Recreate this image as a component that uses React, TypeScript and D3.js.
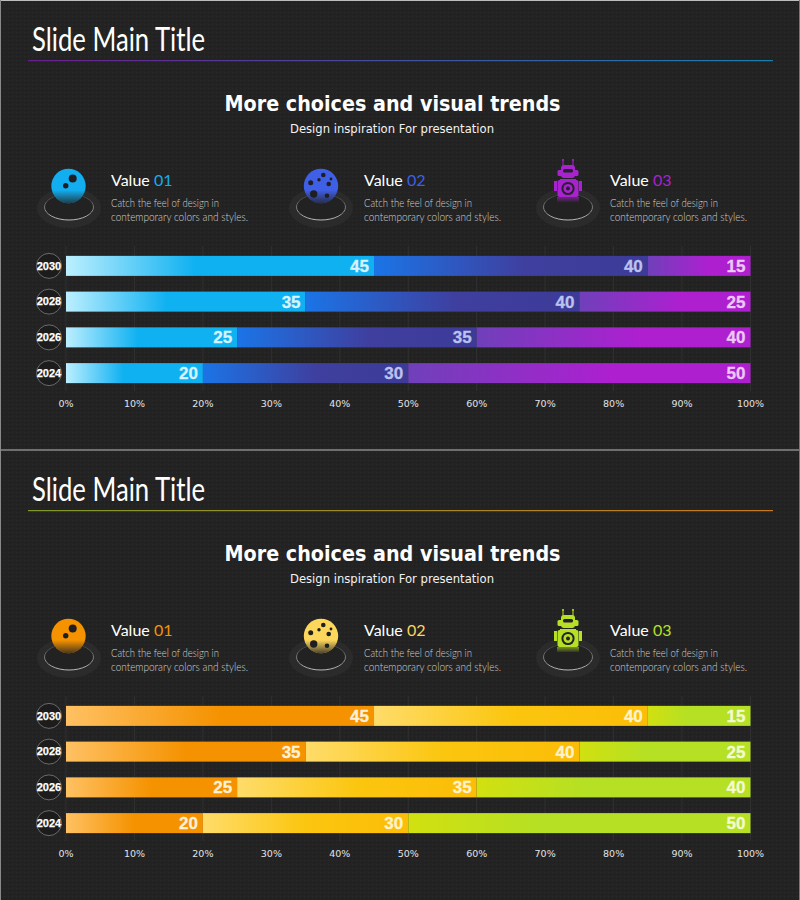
import * as d3 from 'd3';

const years = ['2030', '2028', '2026', '2024'];
const value01 = [45, 35, 25, 20];
const value02 = [40, 40, 35, 30];
const value03 = [15, 25, 40, 50];
const xTickValues = [0, 10, 20, 30, 40, 50, 60, 70, 80, 90, 100];
const legendNames = ['Value', 'Value', 'Value'];
const legendNumbers = ['01', '02', '03'];
const descLines = ['Catch the feel of design in', 'contemporary colors and styles.'];

interface Theme {
  id: string;
  accents: string[];
  labels: string[];
  seg: [number, string][][];
  rule: string[];
}

const blueTheme: Theme = {
  id: 'blue',
  accents: ['#12aef0', '#3f5fe6', '#a822cf'],
  labels: ['#d6f3ff', '#bcc2ee', '#ecc8f6'],
  seg: [
    [[0, '#bcefff'], [0.42, '#0fb1f1'], [1, '#0fb1f1']],
    [[0, '#1b74e6'], [0.55, '#3f3f9f'], [1, '#3d3b98']],
    [[0, '#6f40ba'], [0.6, '#ae1fd0'], [1, '#ae1fd0']],
  ],
  rule: ['#6a1f8c', '#1a7fae'],
};

const orangeTheme: Theme = {
  id: 'orange',
  accents: ['#f59200', '#fdd65c', '#b5e024'],
  labels: ['#fff0d8', '#fff3cc', '#f4fbd0'],
  seg: [
    [[0, '#ffc163'], [0.5, '#f59200'], [1, '#f59200']],
    [[0, '#ffdc6a'], [0.5, '#fbc60f'], [1, '#fbbd08']],
    [[0, '#d2e010'], [0.4, '#b5e024'], [1, '#b5e024']],
  ],
  rule: ['#7f9a26', '#c9791f'],
};

const x = d3.scaleLinear().domain([0, 100]).range([66, 750.5]);
const y = d3.scaleBand<string>().domain(years).range([248, 391]).paddingInner(0.44).paddingOuter(0.22);

const rows = years.map((year, i) => ({ year, a: value01[i], b: value02[i], c: value03[i] }));
const stacked = d3.stack<{ year: string; a: number; b: number; c: number }>().keys(['a', 'b', 'c'])(rows);

const thin = 'Lato, "Noto Sans", sans-serif';
const narrow = '"Liberation Sans Narrow", "Liberation Sans", sans-serif';

const Planet = ({ cx, fill, fadeId, craters }: { cx: number; fill: string; fadeId: string; craters: number[][] }) => (
  <g transform={`translate(${cx},186)`}>
    <circle r={17.2} fill={fill} />
    <circle r={17.2} fill={`url(#${fadeId})`} />
    {craters.map(([dx, dy, r], i) => (
      <circle key={i} cx={dx} cy={dy} r={r} fill="#1f1f22" />
    ))}
  </g>
);

const Robot = ({ cx, fill, fadeId }: { cx: number; fill: string; fadeId: string }) => (
  <g transform={`translate(${cx},0)`}>
    <line x1={-5} x2={-5} y1={161} y2={166} stroke={fill} strokeWidth={1} />
    <line x1={5} x2={5} y1={161} y2={166} stroke={fill} strokeWidth={1} />
    <circle cx={-5} cy={160} r={1.1} fill={fill} />
    <circle cx={5} cy={160} r={1.1} fill={fill} />
    <rect x={-7} y={165} width={14} height={13} rx={3} fill={fill} />
    <rect x={-10.5} y={170} width={21} height={6} rx={1.5} fill={fill} />
    <rect x={-5} y={169} width={10} height={3.6} rx={1.5} fill="#26202a" />
    <rect x={-8} y={179} width={16} height={3} fill={fill} />
    <rect x={-10.5} y={180} width={21} height={17} rx={2} fill={fill} />
    <rect x={-14} y={181} width={3} height={10} fill={fill} />
    <rect x={11} y={181} width={3} height={10} fill={fill} />
    <circle cy={188.5} r={6.6} fill="#26202a" />
    <circle cy={188.5} r={4.6} fill={fill} />
    <circle cy={188.5} r={2} fill="#26202a" />
    <rect x={-11} y={197} width={22} height={5} fill={fill} opacity={0.55} />
    <rect x={-14} y={190} width={28} height={12} fill={`url(#${fadeId})`} />
  </g>
);

const Stand = ({ cx, id }: { cx: number; id: string }) => (
  <g>
    <ellipse cx={cx} cy={208} rx={32} ry={20} fill="#2b2b2b" />
    <ellipse cx={cx} cy={207} rx={24.5} ry={13} fill="#222222" stroke={`url(#${id}-ring)`} strokeWidth={1} />
  </g>
);

const Panel = ({ theme, top }: { theme: Theme; top: number }) => {
  const id = theme.id;
  const legendX = [111, 364, 610];
  return (
    <g transform={`translate(0,${top})`}>
      <defs>
        <linearGradient id={`${id}-rule`}>
          <stop offset="0" stopColor={theme.rule[0]} />
          <stop offset="1" stopColor={theme.rule[1]} />
        </linearGradient>
        <linearGradient id={`${id}-ring`} x1="0" x2="0" y1="0" y2="1">
          <stop offset="0" stopColor="#333333" />
          <stop offset="1" stopColor="#bbbbbb" />
        </linearGradient>
        <linearGradient id={`${id}-fade`} x1="0" x2="0" y1="0" y2="1">
          <stop offset="0.62" stopColor="#222222" stopOpacity={0} />
          <stop offset="1" stopColor="#222222" stopOpacity={0.8} />
        </linearGradient>
        {theme.seg.map((stops, s) => (
          <linearGradient key={s} id={`${id}-seg${s}`}>
            {stops.map(([o, c]) => (
              <stop key={o} offset={o} stopColor={c} />
            ))}
          </linearGradient>
        ))}
      </defs>

      <text x={32} y={51} fill="#ffffff" fontFamily={thin} fontWeight={400} fontSize={32} textLength={173} lengthAdjust="spacingAndGlyphs">
        Slide Main Title
      </text>
      <rect x={28} y={60} width={745} height={1.2} fill={`url(#${id}-rule)`} />

      <text x={392.5} y={111} textAnchor="middle" fill="#ffffff" fontFamily="DejaVu Sans, sans-serif" fontWeight={700} fontSize={21} textLength={336} lengthAdjust="spacingAndGlyphs">
        More choices and visual trends
      </text>
      <text x={392} y={133} textAnchor="middle" fill="#f2f2f2" fontFamily="DejaVu Sans, sans-serif" fontSize={12.5} textLength={204} lengthAdjust="spacingAndGlyphs">
        Design inspiration For presentation
      </text>

      <Stand cx={69} id={id} />
      <Planet cx={68.5} fill={theme.accents[0]} fadeId={`${id}-fade`} craters={[[4.2, -7.5, 4], [-2.8, -0.3, 2.7]]} />
      <Stand cx={321} id={id} />
      <Planet
        cx={321}
        fill={theme.accents[1]}
        fadeId={`${id}-fade`}
        craters={[[2.3, -11, 2.3], [-2, -6.3, 1.7], [10, -7, 1.4], [7.7, -2, 2.3], [-10.3, -3.3, 2.5], [-7.3, 8, 3.7], [6, 9.7, 2.3]]}
      />
      <Stand cx={568} id={id} />
      <Robot cx={568} fill={theme.accents[2]} fadeId={`${id}-fade`} />

      {legendX.map((lx, i) => (
        <g key={i}>
          <text x={lx} y={186} fontFamily={thin} fontSize={16} fill="#ffffff">
            {legendNames[i]}{' '}
            <tspan fill={theme.accents[i]}>{legendNumbers[i]}</tspan>
          </text>
          {descLines.map((line, l) => (
            <text key={l} x={lx} y={207 + l * 14} fontFamily={thin} fontWeight={300} fontSize={11.5} fill="#d0d0d0" textLength={l === 0 ? 108 : 137} lengthAdjust="spacingAndGlyphs">
              {line}
            </text>
          ))}
        </g>
      ))}

      {xTickValues.map((t) => (
        <g key={t}>
          <line x1={x(t)} x2={x(t)} y1={246} y2={391} stroke="#303030" strokeWidth={1} />
          <text x={x(t)} y={407} textAnchor="middle" fontFamily="DejaVu Sans, sans-serif" fontSize={9.5} fill="#e4e4e4">
            {t}%
          </text>
        </g>
      ))}

      {years.map((year) => {
        const cy = (y(year) as number) + y.bandwidth() / 2;
        return (
          <g key={year}>
            <circle cx={49} cy={cy} r={12.5} fill="#1c1c1c" stroke="#6a6a6a" strokeWidth={1} />
            <text x={49} y={cy + 3.7} textAnchor="middle" fontFamily={narrow} fontWeight={700} fontSize={11} fill="#ffffff" stroke="#ffffff" strokeWidth={0.25}>
              {year}
            </text>
          </g>
        );
      })}

      {stacked.map((layer, s) => (
        <g key={layer.key}>
          {layer.map((d) => (
            <g key={d.data.year}>
              <rect
                x={x(d[0])}
                y={y(d.data.year)}
                width={x(d[1]) - x(d[0])}
                height={y.bandwidth()}
                fill={`url(#${id}-seg${s})`}
              />
              <text
                x={x(d[1]) - 5}
                y={(y(d.data.year) as number) + y.bandwidth() / 2 + 6}
                textAnchor="end"
                fontFamily={narrow}
                fontWeight={700}
                fontSize={17}
                fill={theme.labels[s]}
                stroke={theme.labels[s]}
                strokeWidth={0.3}
              >
                {d[1] - d[0]}
              </text>
            </g>
          ))}
        </g>
      ))}
    </g>
  );
};

const App = () => (
  <svg width={800} height={900} style={{ position: 'absolute', left: 0, top: 0 }}>
    <defs>
      <pattern id="grain" width={4} height={4} patternUnits="userSpaceOnUse">
        <rect width={4} height={4} fill="#232323" />
        <rect x={0} y={0} width={1} height={1} fill="#2a2a2a" />
        <rect x={2} y={2} width={1} height={1} fill="#1e1e1e" />
      </pattern>
    </defs>
    <rect width={800} height={900} fill="url(#grain)" />
    <Panel theme={blueTheme} top={0} />
    <Panel theme={orangeTheme} top={450} />
    <line x1={0} x2={800} y1={0.5} y2={0.5} stroke="#bdbdbd" />
    <line x1={0} x2={800} y1={450} y2={450} stroke="#bdbdbd" />
    <line x1={0.5} x2={0.5} y1={0} y2={900} stroke="#8a8a8a" />
    <line x1={799.5} x2={799.5} y1={0} y2={900} stroke="#777777" />
  </svg>
);

export default App;
